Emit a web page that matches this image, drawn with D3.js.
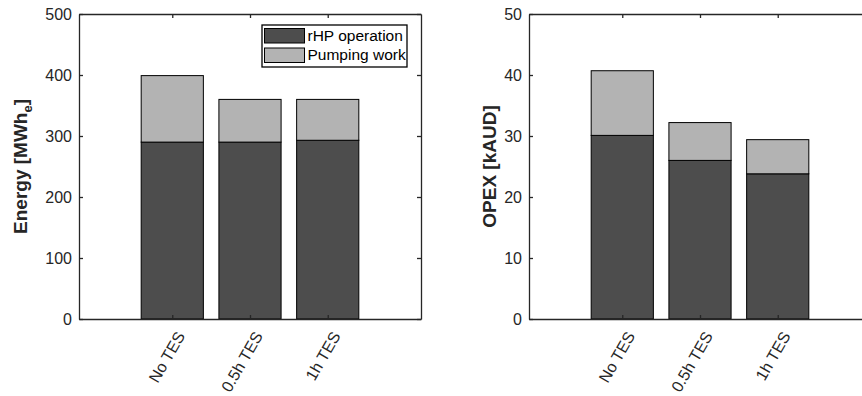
<!DOCTYPE html>
<html>
<head>
<meta charset="utf-8">
<script src="https://cdn.jsdelivr.net/npm/d3@7"></script>
<style>
html, body { margin: 0; padding: 0; background: #fff; }
svg { display: block; }
text { font-family: "Liberation Sans", Arial, sans-serif; }
</style>
</head>
<body>
<svg id="chart" width="862" height="396"></svg>
<script>
// ---- data ----
const categories = ["No TES", "0.5h TES", "1h TES"];
const energyRHP = [290, 290, 293];
const energyPump = [109, 70, 67];
const opexRHP = [30.1, 26.0, 23.8];
const opexPump = [10.6, 6.2, 5.6];
const energyTicks = [0, 100, 200, 300, 400, 500];
const opexTicks = [0, 10, 20, 30, 40, 50];
const seriesNames = ["rHP operation", "Pumping work"];
const seriesColors = ["#4d4d4d", "#b3b3b3"];

const svg = d3.select("#chart");
const axisColor = "#262626";
const fontSize = 16;

function panel(opts) {
  const { left, width, top, height, yMax, ticks, base, extra, ylabel, ylabelX, legend } = opts;
  const g = svg.append("g");
  const x = d3.scaleLinear().domain([-0.2, 4.2]).range([left, left + width]);
  const y = d3.scaleLinear().domain([0, yMax]).range([top + height, top]);
  const bw = x(0.8) - x(0);
  const idx = categories.map((c, i) => i + 1);

  // bars
  const stacks = [base, extra];
  const bars = g.append("g");
  categories.forEach((c, i) => {
    let acc = 0;
    stacks.forEach((s, k) => {
      const v0 = acc, v1 = acc + s[i];
      acc = v1;
      bars.append("rect")
        .attr("x", x(i + 1) - bw / 2)
        .attr("width", bw)
        .attr("y", y(v1))
        .attr("height", y(v0) - y(v1))
        .attr("fill", seriesColors[k])
        .attr("stroke", "#000")
        .attr("stroke-width", 1);
    });
  });

  // axes
  const yl = d3.axisLeft(y).tickValues(ticks).tickSizeInner(-4).tickSizeOuter(0).tickPadding(7);
  const yr = d3.axisRight(y).tickValues(ticks).tickSizeInner(-4).tickSizeOuter(0).tickFormat("");
  const xb = d3.axisBottom(x).tickValues(idx).tickSizeInner(-4).tickSizeOuter(0)
    .tickFormat((d) => categories[d - 1]);
  const xt = d3.axisTop(x).tickValues(idx).tickSizeInner(-4).tickSizeOuter(0).tickFormat("");

  const gl = g.append("g").attr("transform", `translate(${left},0)`).call(yl);
  const gr = g.append("g").attr("transform", `translate(${left + width},0)`).call(yr);
  const gb = g.append("g").attr("transform", `translate(0,${top + height})`).call(xb);
  const gt = g.append("g").attr("transform", `translate(0,${top})`).call(xt);

  [gl, gr, gb, gt].forEach((a) => {
    a.selectAll(".domain").attr("stroke", axisColor).attr("stroke-width", 1.3);
    a.selectAll(".tick line").attr("stroke", axisColor).attr("stroke-width", 1.3);
    a.selectAll("text").attr("fill", axisColor).attr("font-size", fontSize)
      .attr("font-family", "'Liberation Sans', Arial, sans-serif");
  });
  gb.selectAll(".tick text")
    .attr("text-anchor", "end")
    .attr("y", 0).attr("dy", "0.35em")
    .attr("transform", "translate(8,14) rotate(-60)");

  // y label
  const lab = g.append("text")
    .attr("transform", `translate(${ylabelX},${top + height / 2}) rotate(-90)`)
    .attr("text-anchor", "middle")
    .attr("font-weight", "bold")
    .attr("font-size", 19)
    .attr("fill", axisColor);
  lab.append("tspan").text(ylabel[0]);
  if (ylabel[1]) {
    lab.append("tspan").attr("font-size", 13).attr("dy", 5).text(ylabel[1]);
    lab.append("tspan").attr("dy", -5).text(ylabel[2]);
  }

  if (legend) {
    const lg = g.append("g");
    lg.append("rect").attr("x", 262).attr("y", 25).attr("width", 145).attr("height", 42)
      .attr("fill", "#fff").attr("stroke", "#000").attr("stroke-width", 1.3);
    seriesNames.forEach((n, k) => {
      const cy = 35.5 + k * 19.5;
      lg.append("rect").attr("x", 264.5).attr("y", cy - 7).attr("width", 40).attr("height", 14.5)
        .attr("fill", seriesColors[k]).attr("stroke", "#000").attr("stroke-width", 1);
      lg.append("text").attr("x", 307.5).attr("y", cy).attr("dy", "0.35em")
        .attr("font-size", 15.5).attr("fill", "#000").text(n);
    });
  }
}

panel({ left: 79, width: 342, top: 14, height: 305, yMax: 500, ticks: energyTicks,
  base: energyRHP, extra: energyPump, ylabel: ["Energy [MWh", "e", "]"], ylabelX: 27, legend: true });
panel({ left: 529, width: 342, top: 14, height: 305, yMax: 50, ticks: opexTicks,
  base: opexRHP, extra: opexPump, ylabel: ["OPEX [kAUD]"], ylabelX: 496, legend: false });
</script>
</body>
</html>
